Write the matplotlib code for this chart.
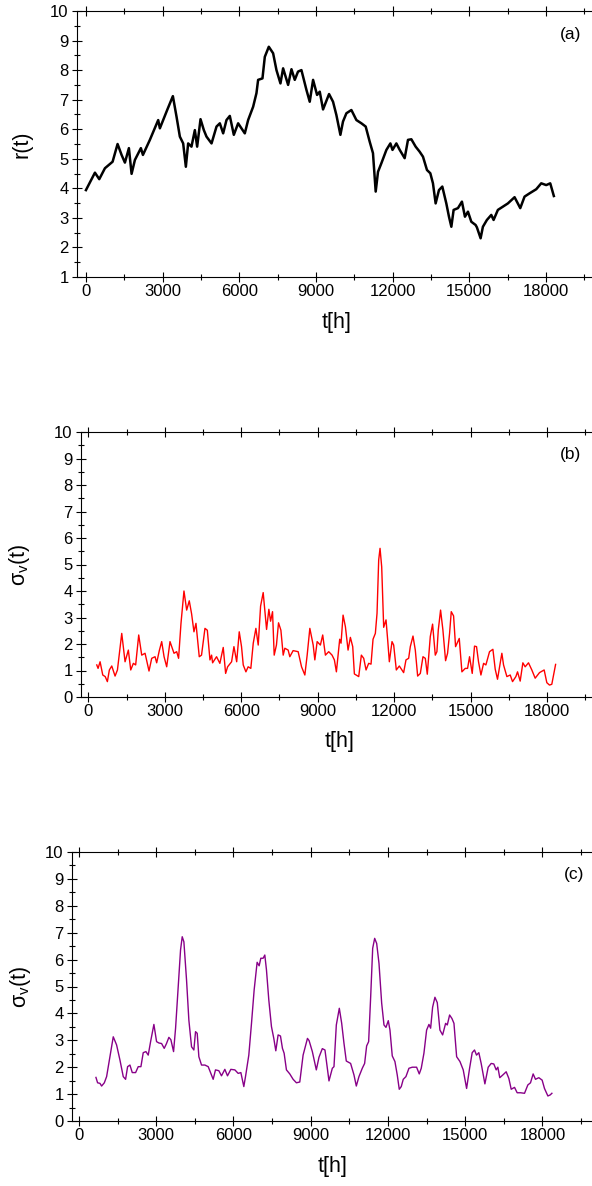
import matplotlib
matplotlib.use("Agg")
import matplotlib.pyplot as plt
from matplotlib.ticker import MultipleLocator

# panel (a): r(t)
t_a = [0, 352, 521, 743, 1043, 1238, 1395, 1525, 1681, 1786,
       1916, 2150, 2230, 2502, 2828, 2893, 3179, 3402, 3546, 3675,
       3805, 3910, 4000, 4130, 4262, 4352, 4484, 4614, 4718, 4915,
       5110, 5240, 5370, 5500, 5630, 5787, 5956, 6086, 6217, 6347,
       6543, 6673, 6738, 6908, 7000, 7156, 7325, 7456, 7612, 7716,
       7912, 8043, 8172, 8300, 8433, 8629, 8758, 8889, 9045, 9150,
       9279, 9514, 9670, 9801, 9958, 10060, 10193, 10388, 10584, 10780,
       10948, 11104, 11233, 11339, 11430, 11562, 11758, 11914, 11997, 12148,
       12280, 12473, 12603, 12735, 12903, 13059, 13190, 13346, 13477, 13580,
       13685, 13815, 13946, 14103, 14207, 14300, 14389, 14558, 14714, 14832,
       14950, 15081, 15249, 15300, 15445, 15535, 15691, 15863, 15953, 16121,
       16317, 16513, 16774, 16997, 17165, 17360, 17622, 17818, 18013, 18170,
       18311]
r_a = [3.94, 4.53, 4.31, 4.68, 4.90, 5.50, 5.13, 4.87, 5.36, 4.49,
       4.96, 5.36, 5.13, 5.64, 6.31, 6.03, 6.65, 7.12, 6.42, 5.75,
       5.52, 4.73, 5.52, 5.41, 5.97, 5.41, 6.34, 5.97, 5.75, 5.52,
       6.09, 6.20, 5.86, 6.31, 6.45, 5.81, 6.20, 6.03, 5.86, 6.31,
       6.76, 7.22, 7.67, 7.72, 8.45, 8.79, 8.57, 8.00, 7.55, 8.06,
       7.50, 8.03, 7.67, 7.95, 8.00, 7.33, 6.93, 7.67, 7.16, 7.27,
       6.67, 7.19, 6.93, 6.48, 5.81, 6.26, 6.54, 6.65, 6.31, 6.20,
       6.09, 5.58, 5.19, 3.89, 4.56, 4.85, 5.30, 5.52, 5.30, 5.52,
       5.30, 5.02, 5.64, 5.66, 5.41, 5.24, 5.07, 4.62, 4.51, 4.17,
       3.49, 3.94, 4.06, 3.49, 3.04, 2.70, 3.27, 3.33, 3.55, 3.04,
       3.21, 2.87, 2.76, 2.68, 2.31, 2.70, 2.93, 3.10, 2.93, 3.27,
       3.38, 3.49, 3.70, 3.33, 3.72, 3.83, 3.97, 4.17, 4.11, 4.17,
       3.74]

# panel (b): sigma_v(t), red
t_b = [329, 380, 459, 564, 660, 745, 823, 917, 1047, 1140,
       1309, 1439, 1568, 1662, 1765, 1855, 1975, 2093, 2224, 2379,
       2485, 2616, 2680, 2783, 2877, 2970, 3073, 3203, 3360, 3465,
       3540, 3634, 3751, 3857, 3959, 4050, 4143, 4222, 4351, 4440,
       4575, 4667, 4771, 4835, 4875, 5030, 5160, 5292, 5386, 5464,
       5620, 5712, 5820, 5920, 6010, 6077, 6182, 6270, 6375, 6470,
       6574, 6665, 6758, 6860, 6993, 7083, 7150, 7227, 7292, 7380,
       7462, 7555, 7645, 7710, 7840, 7905, 8035, 8232, 8365, 8495,
       8586, 8691, 8822, 8887, 8978, 9105, 9196, 9302, 9432, 9563,
       9654, 9733, 9863, 9915, 9995, 10087, 10191, 10282, 10374, 10439,
       10609, 10713, 10805, 10897, 11000, 11092, 11171, 11262, 11328, 11393,
       11446, 11511, 11589, 11681, 11746, 11811, 11916, 11981, 12085, 12203,
       12372, 12464, 12569, 12634, 12739, 12830, 12922, 13027, 13131, 13222,
       13300, 13418, 13508, 13614, 13678, 13732, 13822, 13913, 14018, 14096,
       14175, 14241, 14332, 14410, 14555, 14659, 14790, 14881, 14959, 15064,
       15154, 15233, 15311, 15405, 15510, 15600, 15743, 15875, 15966, 16056,
       16227, 16293, 16424, 16555, 16646, 16777, 16842, 16946, 17051, 17142,
       17272, 17403, 17534, 17704, 17887, 17992, 18096, 18187, 18336]
s_b = [1.21, 1.08, 1.33, 0.83, 0.77, 0.58, 1.02, 1.17, 0.79, 1.02,
       2.40, 1.33, 1.77, 1.02, 1.27, 1.21, 2.34, 1.58, 1.65, 0.98,
       1.46, 1.52, 1.29, 1.75, 2.09, 1.52, 1.14, 2.09, 1.65, 1.71,
       1.46, 2.78, 4.00, 3.28, 3.63, 3.14, 2.46, 2.78, 1.52, 1.58,
       2.59, 2.52, 1.40, 1.58, 1.29, 1.52, 1.27, 1.87, 0.89, 1.14,
       1.33, 1.90, 1.33, 2.46, 1.90, 1.21, 0.95, 1.14, 1.08, 2.03,
       2.59, 1.96, 3.43, 3.94, 2.55, 3.31, 2.86, 3.22, 1.58, 1.96,
       2.80, 2.52, 1.58, 1.84, 1.77, 1.52, 1.75, 1.71, 1.14, 0.83,
       1.58, 2.59, 1.96, 1.40, 2.09, 1.96, 2.34, 1.58, 1.71, 1.58,
       1.40, 0.95, 2.18, 2.03, 3.09, 2.65, 1.77, 2.25, 1.90, 0.87,
       0.77, 1.58, 1.46, 1.02, 1.27, 1.24, 2.18, 2.40, 3.16, 5.17,
       5.61, 4.91, 2.63, 2.91, 2.15, 1.33, 2.09, 1.96, 1.02, 1.17,
       0.92, 1.40, 1.46, 1.90, 2.30, 1.77, 0.79, 0.89, 1.52, 1.46,
       0.86, 2.28, 2.75, 1.58, 1.71, 2.53, 3.28, 2.53, 1.37, 1.65,
       2.40, 3.22, 3.06, 1.90, 2.21, 0.95, 1.08, 1.08, 1.52, 0.89,
       1.92, 1.90, 1.33, 0.83, 1.27, 1.21, 1.71, 1.80, 1.05, 0.67,
       1.65, 1.21, 0.77, 0.83, 0.58, 0.77, 0.95, 0.60, 1.29, 1.14,
       1.29, 1.02, 0.71, 0.92, 1.02, 0.54, 0.45, 0.48, 1.23]

# panel (c): sigma_v(t), purple
t_c = [660, 724, 815, 880, 985, 1074, 1203, 1332, 1461, 1591,
       1720, 1811, 1889, 1980, 2070, 2200, 2302, 2406, 2496, 2600,
       2690, 2780, 2910, 3014, 3105, 3209, 3311, 3400, 3492, 3570,
       3674, 3752, 3854, 3945, 4010, 4075, 4178, 4268, 4372, 4462,
       4527, 4592, 4656, 4760, 4890, 5019, 5122, 5212, 5302, 5432,
       5535, 5665, 5768, 5898, 6054, 6183, 6287, 6402, 6467, 6596,
       6700, 6803, 6919, 6997, 7062, 7152, 7217, 7281, 7372, 7475,
       7566, 7644, 7734, 7825, 7902, 7967, 8057, 8187, 8316, 8445,
       8575, 8704, 8873, 8936, 9063, 9217, 9321, 9450, 9553, 9618,
       9709, 9839, 9903, 9994, 10110, 10201, 10291, 10381, 10549, 10680,
       10770, 10873, 11002, 11093, 11171, 11249, 11328, 11406, 11483, 11561,
       11651, 11755, 11845, 11922, 12012, 12077, 12166, 12270, 12360, 12438,
       12516, 12593, 12697, 12814, 12943, 13111, 13214, 13292, 13396, 13500,
       13591, 13656, 13733, 13823, 13914, 14017, 14122, 14238, 14303, 14393,
       14484, 14562, 14666, 14795, 14922, 15053, 15169, 15270, 15360, 15438,
       15528, 15619, 15763, 15891, 16008, 16110, 16201, 16266, 16341, 16458,
       16590, 16694, 16785, 16914, 17016, 17146, 17302, 17431, 17534, 17637,
       17728, 17857, 17986, 18077, 18209, 18300, 18365]
s_c = [1.62, 1.42, 1.40, 1.30, 1.42, 1.65, 2.39, 3.13, 2.83, 2.27,
       1.65, 1.55, 2.02, 2.08, 1.80, 1.80, 2.02, 2.02, 2.54, 2.58,
       2.45, 2.94, 3.59, 2.95, 2.90, 2.88, 2.70, 2.88, 3.11, 3.02,
       2.58, 3.45, 4.99, 6.36, 6.85, 6.66, 5.24, 3.75, 2.76, 2.64,
       3.32, 3.26, 2.39, 2.08, 2.08, 2.02, 1.77, 1.55, 1.90, 1.87,
       1.68, 1.92, 1.68, 1.92, 1.90, 1.77, 1.80, 1.28, 1.65, 2.45,
       3.63, 4.87, 5.90, 5.77, 6.05, 6.05, 6.17, 5.62, 4.50, 3.51,
       3.07, 2.61, 3.20, 3.16, 2.70, 2.52, 1.90, 1.75, 1.55, 1.42,
       1.45, 2.45, 3.07, 2.99, 2.58, 1.90, 2.37, 2.69, 2.64, 2.16,
       1.49, 1.96, 2.02, 3.57, 4.19, 3.64, 2.89, 2.23, 2.14, 1.71,
       1.30, 1.65, 1.96, 2.14, 2.79, 2.95, 4.62, 6.42, 6.79, 6.60,
       5.86, 4.38, 3.57, 3.48, 3.73, 3.38, 2.42, 2.21, 1.71, 1.18,
       1.28, 1.55, 1.65, 1.96, 2.00, 2.00, 1.75, 1.96, 2.52, 3.38,
       3.59, 3.45, 4.23, 4.60, 4.40, 3.38, 3.20, 3.63, 3.57, 3.94,
       3.81, 3.63, 2.39, 2.21, 1.90, 1.21, 1.96, 2.54, 2.64, 2.45,
       2.54, 2.14, 1.38, 2.00, 2.14, 2.12, 1.90, 2.00, 1.61, 1.71,
       1.83, 1.58, 1.18, 1.25, 1.05, 1.05, 1.03, 1.34, 1.42, 1.75,
       1.55, 1.61, 1.52, 1.21, 0.93, 0.97, 1.03]

plt.rcParams['font.family'] = ['Liberation Sans', 'DejaVu Sans']

W, H = 592, 1186
fig = plt.figure(figsize=(W / 100, H / 100), dpi=100)


def make_axes(left, top, right, bottom):
    return fig.add_axes([left / W, 1 - bottom / H, (right - left) / W, (bottom - top) / H])


panels = [
    # box in pixels, x start, y range, data, color, lw, ylabel, tag, tag pos, ylabel x
    ((77, 11, 597, 277), -350, (1, 10), t_a, r_a, 'black', 1.8, 'r(t)', '(a)', (0.95, 0.91), -0.086),
    ((81, 432, 598, 697), -290, (0, 10), t_b, s_b, 'red', 1.0,
     r'$\mathregular{σ_v(t)}$', '(b)', (0.947, 0.915), -0.095),
    ((72, 852, 594, 1121), -270, (0, 10), t_c, s_c, '#880088', 1.0,
     r'$\mathregular{σ_v(t)}$', '(c)', (0.961, 0.916), -0.075),
]

for box, x0, ylim, t, s, color, lw, ylab, tag, tagpos, ylx in panels:
    ax = make_axes(*box)
    ax.plot(t, s, color=color, lw=lw)
    ax.set_xlim(x0, 20000)
    ax.set_ylim(*ylim)
    ax.xaxis.set_major_locator(MultipleLocator(3000))
    ax.xaxis.set_minor_locator(MultipleLocator(1500))
    ax.yaxis.set_major_locator(MultipleLocator(1))
    ax.yaxis.set_minor_locator(MultipleLocator(0.5))
    ax.tick_params(which='both', direction='inout', top=True, labelsize=12, width=0.8)
    ax.tick_params(which='major', length=7)
    ax.tick_params(which='minor', length=4)
    ax.tick_params(axis='x', pad=1.5)
    ax.tick_params(axis='y', pad=2.5)
    for sp in ax.spines.values():
        sp.set_linewidth(0.8)
    ax.set_xlabel('t[h]', fontsize=15.5)
    ax.xaxis.set_label_coords(0.5, -0.13)
    ax.set_ylabel(ylab, fontsize=15.5)
    ax.yaxis.set_label_coords(ylx, 0.5)
    ax.text(tagpos[0], tagpos[1], tag, transform=ax.transAxes, fontsize=12.5,
            ha='center', va='center')

fig.savefig('out.png', dpi=100)
